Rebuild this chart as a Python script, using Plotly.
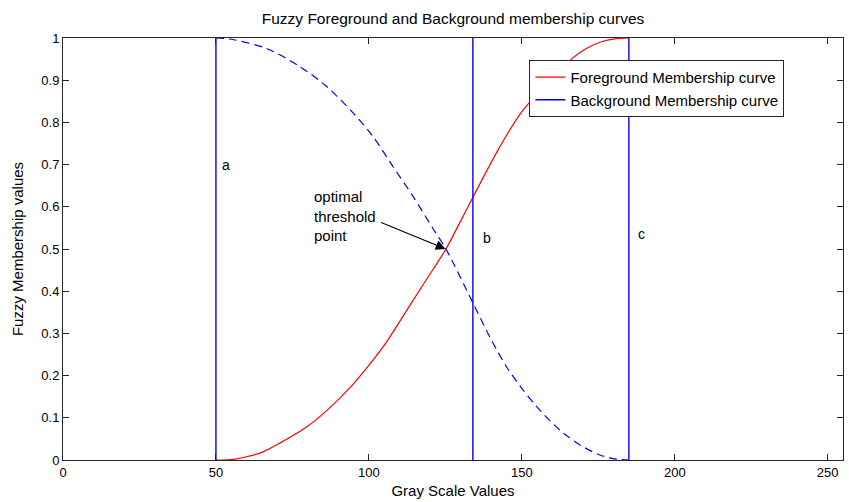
import plotly.graph_objects as go

# ---- data ----
fg_x = [50, 55, 58.9, 65, 70.9, 79.6, 86.2, 94.9, 101.4, 105.8, 114.5, 121, 125.2,
        134.1, 142.8, 150.4, 166.2, 171.1, 176, 180.4, 185]
fg_y = [0.0, 0.001, 0.006, 0.018, 0.04, 0.078, 0.117, 0.18, 0.237, 0.28, 0.379, 0.452, 0.50,
        0.624, 0.742, 0.829, 0.95, 0.975, 0.991, 0.998, 1.0]

bg_x = [50, 55.1, 66.6, 77.5, 86.2, 94.9, 101.4, 107.9, 114.5, 121, 125.2,
        134.1, 139.5, 145, 150.4, 155.9, 162.4, 168.9, 175.5, 181, 185]
bg_y = [1.0, 0.997, 0.975, 0.932, 0.885, 0.822, 0.766, 0.695, 0.624, 0.548, 0.50,
        0.371, 0.292, 0.221, 0.166, 0.118, 0.071, 0.036, 0.012, 0.002, 0.0]

bound_x = [50, 134, 185]          # a, b, c
bound_labels = ["a", "b", "c"]
threshold_pt = (125.1, 0.5)

x_ticks = [0, 50, 100, 150, 200, 250]
y_ticks = [0, 0.1, 0.2, 0.3, 0.4, 0.5, 0.6, 0.7, 0.8, 0.9, 1]
y_tick_text = ["0", "0.1", "0.2", "0.3", "0.4", "0.5", "0.6", "0.7", "0.8", "0.9", "1"]

FONT = "Liberation Sans, Arial, Helvetica, sans-serif"
AX = "#262626"

vx, vy = [], []
for b in bound_x:
    vx += [b, b, None]
    vy += [0, 1, None]

fig = go.Figure()
fig.add_trace(go.Scatter(x=fg_x, y=fg_y, mode="lines", name="Foreground Membership curve",
                         line=dict(color="#ff0000", width=1.2, shape="spline", smoothing=0.8)))
fig.add_trace(go.Scatter(x=vx, y=vy, mode="lines", name="Background Membership curve",
                         line=dict(color="#0000ff", width=1.4)))
fig.add_trace(go.Scatter(x=bg_x, y=bg_y, mode="lines", showlegend=False,
                         line=dict(color="#0000ff", width=1.2, dash="8px,5px",
                                   shape="spline", smoothing=0.8)))

# labels a, b, c
lab_pos = [(53.3, 0.70), (138.6, 0.526), (189.2, 0.536)]
for (lx, ly), t in zip(lab_pos, bound_labels):
    fig.add_annotation(x=lx, y=ly, text=t, showarrow=False,
                       font=dict(family=FONT, size=14, color="#000"))

fig.add_annotation(x=81.4, y=0.578, text="optimal<br>threshold<br>point", showarrow=False,
                   xanchor="left", align="left", font=dict(family=FONT, size=15, color="#000"))
fig.add_annotation(x=threshold_pt[0], y=threshold_pt[1], text="", showarrow=True,
                   ax=-66, ay=-27, arrowhead=2, arrowsize=1.8, arrowwidth=1.1,
                   arrowcolor="#000", standoff=0)

axis_common = dict(showline=True, linecolor=AX, linewidth=1, mirror="ticks",
                   ticks="inside", ticklen=6, tickcolor=AX, tickwidth=1,
                   showgrid=False, zeroline=False, automargin=False,
                   tickfont=dict(family=FONT, size=13, color="#000"))

fig.update_layout(
    width=849, height=502,
    margin=dict(l=63, r=6, t=38, b=42),
    paper_bgcolor="white", plot_bgcolor="white",
    title=dict(text="Fuzzy Foreground and Background membership curves",
               font=dict(family=FONT, size=15.5, color="#000"),
               x=0.5, xref="paper", xanchor="center",
               y=1 - 19 / 502, yref="container", yanchor="middle"),
    xaxis=dict(range=[0, 255], tickvals=x_ticks,
               title=dict(text="Gray Scale Values", standoff=6,
                          font=dict(family=FONT, size=15, color="#000")),
               ticklabelstandoff=0,
               **axis_common),
    yaxis=dict(range=[0, 1], tickvals=y_ticks, ticktext=y_tick_text,
               title=dict(text="Fuzzy Membership values", standoff=14,
                          font=dict(family=FONT, size=15, color="#000")),
               **axis_common),
    legend=dict(x=0.598, y=0.948, xanchor="left", yanchor="top",
                bgcolor="white", bordercolor=AX, borderwidth=1,
                font=dict(family=FONT, size=15, color="#000")),
    showlegend=True,
)

fig.write_html("out.html", config={"displayModeBar": False},
               post_script="document.body.style.margin='0';document.body.style.overflow='hidden';")
